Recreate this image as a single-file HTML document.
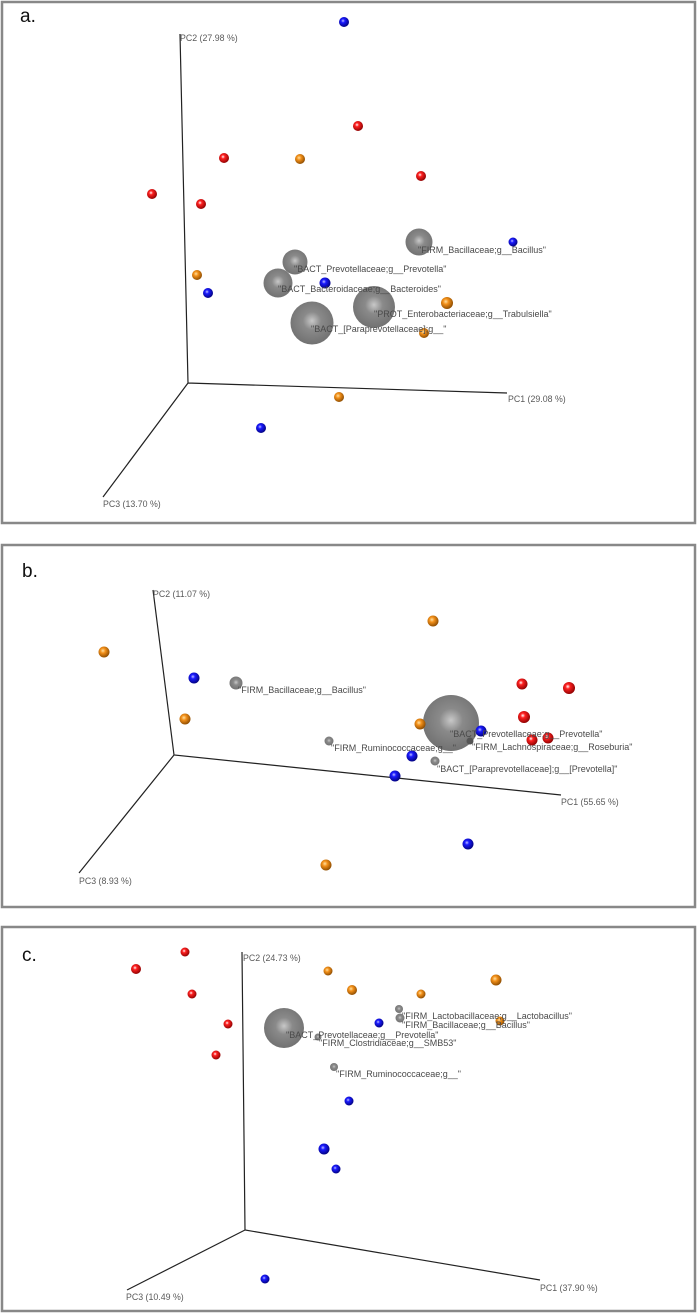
<!DOCTYPE html>
<html><head><meta charset="utf-8"><style>
html,body{margin:0;padding:0;background:#fff;}
svg{display:block;}
text{font-family:"Liberation Sans",sans-serif;}
.l{font-size:9px;fill:#4a4a4a;}
.ax{font-size:8.8px;fill:#5a5a5a;}
.p{font-size:19px;fill:#111;}
</style></head><body>
<svg width="697" height="1313" viewBox="0 0 697 1313" xmlns="http://www.w3.org/2000/svg">
<defs>
<radialGradient id="gr" cx="0.4" cy="0.38" r="0.65"><stop offset="0" stop-color="#ffffff"/><stop offset="0.3" stop-color="#ff2020"/><stop offset="1" stop-color="#8a0000"/></radialGradient>
<radialGradient id="gb" cx="0.4" cy="0.38" r="0.65"><stop offset="0" stop-color="#c0c0ff"/><stop offset="0.3" stop-color="#1a1aff"/><stop offset="1" stop-color="#00007a"/></radialGradient>
<radialGradient id="go" cx="0.4" cy="0.38" r="0.65"><stop offset="0" stop-color="#ffe0a0"/><stop offset="0.35" stop-color="#f39019"/><stop offset="1" stop-color="#8a4a00"/></radialGradient>
<radialGradient id="gg" cx="0.5" cy="0.45" r="0.6"><stop offset="0" stop-color="#c8c8c8"/><stop offset="0.35" stop-color="#8a8a8a"/><stop offset="1" stop-color="#6e6e6e"/></radialGradient>
</defs>
<g fill="none" stroke="#888" stroke-width="2.5">
<rect x="2" y="2" width="693" height="521"/>
<rect x="2" y="545" width="693" height="362"/>
<rect x="2" y="927" width="693" height="384"/>
</g>
<g stroke="#222" stroke-width="1.2" fill="none">
<path d="M180 34 L188 383 L507 393 M188 383 L103 497"/>
<path d="M153 590 L174 755 L561 795 M174 755 L79 873"/>
<path d="M242 952 L245 1230 L540 1280 M245 1230 L127 1290"/>
</g>
<text class="p" x="20" y="22">a.</text>
<text class="p" x="22" y="577">b.</text>
<text class="p" x="22" y="961">c.</text>
<text class="ax" x="180" y="41">PC2 (27.98 %)</text>
<text class="ax" x="508" y="402">PC1 (29.08 %)</text>
<text class="ax" x="103" y="507">PC3 (13.70 %)</text>
<text class="ax" x="153" y="597">PC2 (11.07 %)</text>
<text class="ax" x="561" y="805">PC1 (55.65 %)</text>
<text class="ax" x="79" y="884">PC3 (8.93 %)</text>
<text class="ax" x="243" y="961">PC2 (24.73 %)</text>
<text class="ax" x="540" y="1291">PC1 (37.90 %)</text>
<text class="ax" x="126" y="1300">PC3 (10.49 %)</text>

<!-- panel a -->
<circle cx="344" cy="22" r="5" fill="url(#gb)"/>
<circle cx="358" cy="126" r="5" fill="url(#gr)"/>
<circle cx="224" cy="158" r="5" fill="url(#gr)"/>
<circle cx="300" cy="159" r="5" fill="url(#go)"/>
<circle cx="421" cy="176" r="5" fill="url(#gr)"/>
<circle cx="152" cy="194" r="5" fill="url(#gr)"/>
<circle cx="201" cy="204" r="5" fill="url(#gr)"/>
<circle cx="197" cy="275" r="5" fill="url(#go)"/>
<circle cx="208" cy="293" r="5" fill="url(#gb)"/>
<circle cx="419" cy="242" r="13.5" fill="url(#gg)"/>
<circle cx="513" cy="242" r="4.5" fill="url(#gb)"/>
<circle cx="295" cy="262" r="12.5" fill="url(#gg)"/>
<circle cx="278" cy="283" r="14.5" fill="url(#gg)"/>
<circle cx="325" cy="283" r="5.5" fill="url(#gb)"/>
<circle cx="374" cy="307" r="21" fill="url(#gg)"/>
<circle cx="312" cy="323" r="21.5" fill="url(#gg)"/>
<circle cx="447" cy="303" r="6" fill="url(#go)"/>
<circle cx="424" cy="333" r="5" fill="url(#go)"/>
<circle cx="339" cy="397" r="5" fill="url(#go)"/>
<circle cx="261" cy="428" r="5" fill="url(#gb)"/>
<text class="l" x="418" y="253">"FIRM_Bacillaceae;g__Bacillus"</text>
<text class="l" x="294" y="272">"BACT_Prevotellaceae;g__Prevotella"</text>
<text class="l" x="278" y="292">"BACT_Bacteroidaceae;g__Bacteroides"</text>
<text class="l" x="374" y="317">"PROT_Enterobacteriaceae;g__Trabulsiella"</text>
<text class="l" x="311" y="332">"BACT_[Paraprevotellaceae];g__"</text>

<!-- panel b -->
<circle cx="433" cy="621" r="5.5" fill="url(#go)"/>
<circle cx="104" cy="652" r="5.5" fill="url(#go)"/>
<circle cx="194" cy="678" r="5.5" fill="url(#gb)"/>
<circle cx="236" cy="683" r="6.5" fill="url(#gg)"/>
<circle cx="522" cy="684" r="5.5" fill="url(#gr)"/>
<circle cx="569" cy="688" r="6" fill="url(#gr)"/>
<circle cx="185" cy="719" r="5.5" fill="url(#go)"/>
<circle cx="524" cy="717" r="6" fill="url(#gr)"/>
<circle cx="451" cy="723" r="28" fill="url(#gg)"/>
<circle cx="420" cy="724" r="5.5" fill="url(#go)"/>
<circle cx="481" cy="731" r="5.5" fill="url(#gb)"/>
<circle cx="532" cy="740" r="5.5" fill="url(#gr)"/>
<circle cx="548" cy="738" r="5.5" fill="url(#gr)"/>
<circle cx="470" cy="741" r="3.5" fill="#555"/>
<circle cx="329" cy="741" r="4.5" fill="url(#gg)"/>
<circle cx="412" cy="756" r="5.5" fill="url(#gb)"/>
<circle cx="435" cy="761" r="4.5" fill="url(#gg)"/>
<circle cx="395" cy="776" r="5.5" fill="url(#gb)"/>
<circle cx="468" cy="844" r="5.5" fill="url(#gb)"/>
<circle cx="326" cy="865" r="5.5" fill="url(#go)"/>
<text class="l" x="238" y="693">"FIRM_Bacillaceae;g__Bacillus"</text>
<text class="l" x="450" y="737">"BACT_Prevotellaceae;g__Prevotella"</text>
<text class="l" x="472" y="750">"FIRM_Lachnospiraceae;g__Roseburia"</text>
<text class="l" x="331" y="751">"FIRM_Ruminococcaceae;g__"</text>
<text class="l" x="437" y="772">"BACT_[Paraprevotellaceae];g__[Prevotella]"</text>

<!-- panel c -->
<circle cx="185" cy="952" r="4.5" fill="url(#gr)"/>
<circle cx="136" cy="969" r="5" fill="url(#gr)"/>
<circle cx="328" cy="971" r="4.5" fill="url(#go)"/>
<circle cx="496" cy="980" r="5.5" fill="url(#go)"/>
<circle cx="352" cy="990" r="5" fill="url(#go)"/>
<circle cx="192" cy="994" r="4.5" fill="url(#gr)"/>
<circle cx="421" cy="994" r="4.5" fill="url(#go)"/>
<circle cx="399" cy="1009" r="4" fill="url(#gg)"/>
<circle cx="400" cy="1018" r="4.5" fill="url(#gg)"/>
<circle cx="500" cy="1021" r="4.5" fill="url(#go)"/>
<circle cx="379" cy="1023" r="4.5" fill="url(#gb)"/>
<circle cx="228" cy="1024" r="4.5" fill="url(#gr)"/>
<circle cx="284" cy="1028" r="20" fill="url(#gg)"/>
<circle cx="318" cy="1037" r="3.5" fill="url(#gg)"/>
<circle cx="216" cy="1055" r="4.5" fill="url(#gr)"/>
<circle cx="334" cy="1067" r="4" fill="url(#gg)"/>
<circle cx="349" cy="1101" r="4.5" fill="url(#gb)"/>
<circle cx="324" cy="1149" r="5.5" fill="url(#gb)"/>
<circle cx="336" cy="1169" r="4.5" fill="url(#gb)"/>
<circle cx="265" cy="1279" r="4.5" fill="url(#gb)"/>
<text class="l" x="402" y="1019">"FIRM_Lactobacillaceae;g__Lactobacillus"</text>
<text class="l" x="402" y="1028">"FIRM_Bacillaceae;g__Bacillus"</text>
<text class="l" x="286" y="1038">"BACT_Prevotellaceae;g__Prevotella"</text>
<text class="l" x="319" y="1046">"FIRM_Clostridiaceae;g__SMB53"</text>
<text class="l" x="336" y="1077">"FIRM_Ruminococcaceae;g__"</text>
</svg>
</body></html>
